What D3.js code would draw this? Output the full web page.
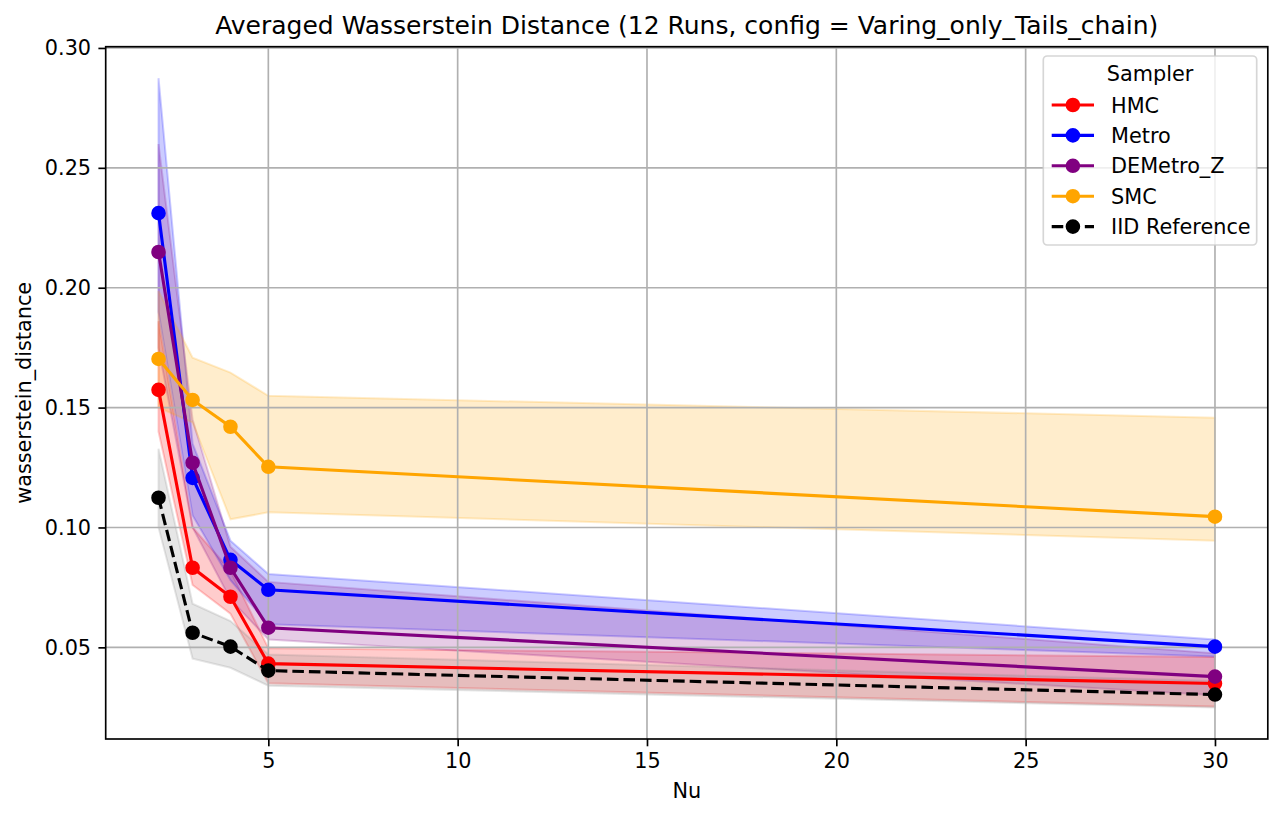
<!DOCTYPE html>
<html>
<head>
<meta charset="utf-8">
<script src="https://cdn.jsdelivr.net/npm/d3@7"></script>
<style>
  body { margin: 0; background: #fff; }
  svg { font-family: "DejaVu Sans", sans-serif; }
</style>
</head>
<body>
<div id="chart"></div>
<script>
// values
var nu = [2.1, 3, 4, 5, 30];

var hmcMean = [0.1574, 0.0832, 0.0711, 0.0432, 0.0349];
var hmcLow  = [0.140, 0.076, 0.064, 0.035, 0.0253];
var hmcHigh = [0.186, 0.100, 0.082, 0.0496, 0.046];

var metroMean = [0.2311, 0.1207, 0.0865, 0.0740, 0.0503];
var metroLow  = [0.190, 0.105, 0.078, 0.0596, 0.0462];
var metroHigh = [0.2874, 0.135, 0.0945, 0.0806, 0.0533];

var demetroMean = [0.2149, 0.1270, 0.0832, 0.0582, 0.0378];
var demetroLow  = [0.175, 0.100, 0.070, 0.0533, 0.0300];
var demetroHigh = [0.2599, 0.145, 0.092, 0.0773, 0.0475];

var smcMean = [0.1703, 0.1532, 0.1420, 0.1253, 0.1045];
var smcLow  = [0.150, 0.1438, 0.1034, 0.1063, 0.0945];
var smcHigh = [0.1986, 0.1708, 0.1646, 0.1549, 0.1458];

var iidMean = [0.1124, 0.0561, 0.0503, 0.0403, 0.0303];
var iidLow  = [0.100, 0.0453, 0.0415, 0.0340, 0.0249];
var iidHigh = [0.1328, 0.0682, 0.061, 0.0470, 0.0360];

var samplerNames = ["HMC", "Metro", "DEMetro_Z", "SMC", "IID Reference"];
var xTicks = [5, 10, 15, 20, 25, 30];
var yTicks = [0.05, 0.10, 0.15, 0.20, 0.25, 0.30];

var titleText = "Averaged Wasserstein Distance (12 Runs, config = Varing_only_Tails_chain)";

// styles
var colors = ["red", "blue", "purple", "orange", "black"];
var bandColors = ["red", "blue", "purple", "orange", "gray"];
var dashed = [false, false, false, false, true];

var series = samplerNames.map(function(name, i) {
	var means = [hmcMean, metroMean, demetroMean, smcMean, iidMean][i];
	var lows = [hmcLow, metroLow, demetroLow, smcLow, iidLow][i];
	var highs = [hmcHigh, metroHigh, demetroHigh, smcHigh, iidHigh][i];
	return {
		name: name,
		points: nu.map(function(n, j) { return {nu: n, mean: means[j], low: lows[j], high: highs[j]}; })
	};
});

var W = 1282, H = 817;
var margin = {top: 46.7, right: 14.2, bottom: 78, left: 105.7};
var width = W - margin.left - margin.right;
var height = H - margin.top - margin.bottom;

var svg = d3.select("#chart").append("svg")
	.attr("width", W)
	.attr("height", H);

var g = svg.append("g")
	.attr("transform", "translate(" + margin.left + "," + margin.top + ")");

// matplotlib-like 5% margins
var xMin = d3.min(nu), xMax = d3.max(nu);
var xPad = (xMax - xMin) * 0.05;
var x = d3.scaleLinear()
	.domain([xMin - xPad, xMax + xPad])
	.range([0, width]);

var allLow = d3.min(series, function(s) { return d3.min(s.points, function(p) { return Math.min(p.low, p.mean); }); });
var allHigh = d3.max(series, function(s) { return d3.max(s.points, function(p) { return Math.max(p.high, p.mean); }); });
var yPad = (allHigh - allLow) * 0.05;
var y = d3.scaleLinear()
	.domain([allLow - yPad, allHigh + yPad])
	.range([height, 0]);

// bands
var area = d3.area()
	.x(function(d) { return x(d.nu); })
	.y0(function(d) { return y(d.low); })
	.y1(function(d) { return y(d.high); });

series.forEach(function(s, i) {
	g.append("path")
		.datum(s.points)
		.attr("d", area)
		.attr("fill", bandColors[i])
		.attr("fill-opacity", 0.2)
		.attr("stroke", bandColors[i])
		.attr("stroke-opacity", 0.2)
		.attr("stroke-width", 2);
});

// grid
g.append("g").selectAll("line")
	.data(xTicks)
	.enter().append("line")
	.attr("x1", function(d) { return x(d); })
	.attr("x2", function(d) { return x(d); })
	.attr("y1", 0)
	.attr("y2", height)
	.attr("stroke", "#b0b0b0")
	.attr("stroke-width", 1.67);

g.append("g").selectAll("line")
	.data(yTicks)
	.enter().append("line")
	.attr("x1", 0)
	.attr("x2", width)
	.attr("y1", function(d) { return y(d); })
	.attr("y2", function(d) { return y(d); })
	.attr("stroke", "#b0b0b0")
	.attr("stroke-width", 1.67);

// lines + markers
var line = d3.line()
	.x(function(d) { return x(d.nu); })
	.y(function(d) { return y(d.mean); });

series.forEach(function(s, i) {
	var sg = g.append("g");
	sg.append("path")
		.datum(s.points)
		.attr("d", line)
		.attr("fill", "none")
		.attr("stroke", colors[i])
		.attr("stroke-width", 3.125)
		.attr("stroke-dasharray", dashed[i] ? "11.56,5" : null);
	sg.selectAll("circle")
		.data(s.points)
		.enter().append("circle")
		.attr("cx", function(d) { return x(d.nu); })
		.attr("cy", function(d) { return y(d.mean); })
		.attr("r", 6.25)
		.attr("fill", colors[i])
		.attr("stroke", colors[i])
		.attr("stroke-width", 2.08);
});

// axes
var xAxis = g.append("g")
	.attr("transform", "translate(0," + height + ")")
	.call(d3.axisBottom(x).tickValues(xTicks).tickSize(7.3).tickPadding(7.3).tickFormat(d3.format("d")));

var yAxis = g.append("g")
	.call(d3.axisLeft(y).tickValues(yTicks).tickSize(7.3).tickPadding(7.3).tickFormat(d3.format(".2f")));

[xAxis, yAxis].forEach(function(a) {
	a.select(".domain").remove();
	a.selectAll(".tick line").attr("stroke", "#000").attr("stroke-width", 1.67);
	a.selectAll(".tick text")
		.attr("fill", "#000")
		.style("font-size", "20.8px")
		.style("font-family", "DejaVu Sans");
});

// spines
g.append("rect")
	.attr("x", 0)
	.attr("y", 0)
	.attr("width", width)
	.attr("height", height)
	.attr("fill", "none")
	.attr("stroke", "#000")
	.attr("stroke-width", 1.67);

// title and labels
svg.append("text")
	.attr("x", margin.left + width / 2)
	.attr("y", 34)
	.attr("text-anchor", "middle")
	.style("font-size", "25px")
	.text(titleText);

svg.append("text")
	.attr("x", margin.left + width / 2)
	.attr("y", 798)
	.attr("text-anchor", "middle")
	.style("font-size", "20.8px")
	.text("Nu");

svg.append("text")
	.attr("transform", "translate(31," + (margin.top + height / 2) + ") rotate(-90)")
	.attr("text-anchor", "middle")
	.style("font-size", "20.8px")
	.text("wasserstein_distance");

// legend
var legX = 1043.3, legY = 56, legW = 213.4, legH = 189;
var legend = svg.append("g");

legend.append("rect")
	.attr("x", legX)
	.attr("y", legY)
	.attr("width", legW)
	.attr("height", legH)
	.attr("rx", 4)
	.attr("fill", "#fff")
	.attr("fill-opacity", 0.8)
	.attr("stroke", "#ccc")
	.attr("stroke-opacity", 0.8)
	.attr("stroke-width", 1.67);

legend.append("text")
	.attr("x", legX + legW / 2)
	.attr("y", 81)
	.attr("text-anchor", "middle")
	.style("font-size", "20.8px")
	.text("Sampler");

var rowY = d3.scalePoint().domain(samplerNames).range([105, 226.6]);

samplerNames.forEach(function(name, i) {
	var cy = rowY(name);
	legend.append("line")
		.attr("x1", 1051.7)
		.attr("x2", 1094)
		.attr("y1", cy)
		.attr("y2", cy)
		.attr("stroke", colors[i])
		.attr("stroke-width", 3.125)
		.attr("stroke-dasharray", dashed[i] ? "11.56,5" : null);
	legend.append("circle")
		.attr("cx", 1072.9)
		.attr("cy", cy)
		.attr("r", 6.25)
		.attr("fill", colors[i])
		.attr("stroke", colors[i])
		.attr("stroke-width", 2.08);
	legend.append("text")
		.attr("x", 1111)
		.attr("y", cy + 7.6)
		.style("font-size", "20.8px")
		.text(name);
});
</script>
</body>
</html>
